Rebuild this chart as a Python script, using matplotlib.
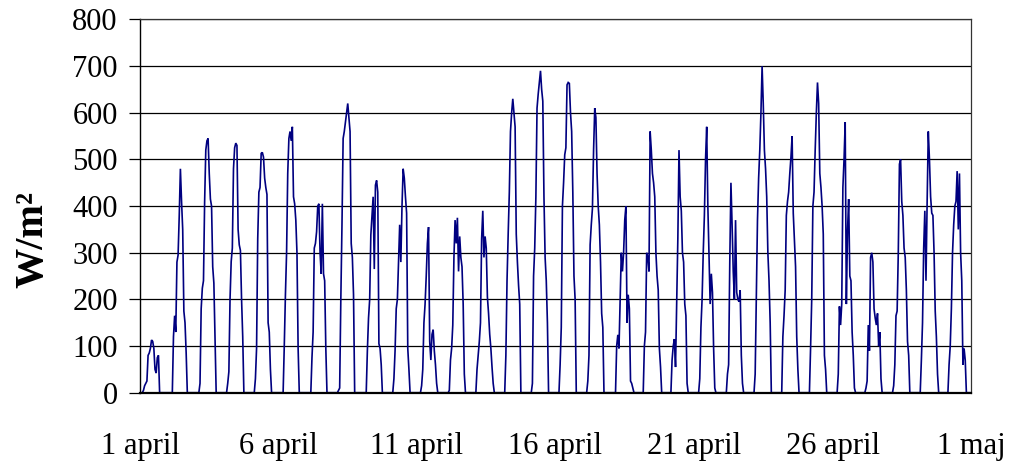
import matplotlib
matplotlib.use("Agg")
import matplotlib.pyplot as plt
import numpy as np

# Hourly global irradiance (W/m2), April. Each day lists hours 3..20 (other hours = 0)
hours = list(range(3, 21))
apr01 = [5, 15, 20, 25, 80, 85, 95, 113, 110, 95, 50, 42, 75, 80, 0, 0, 0, 0]
apr02 = [0, 0, 120, 165, 130, 280, 295, 380, 480, 410, 350, 175, 150, 85, 0, 0, 0, 0]
apr03 = [0, 20, 180, 224, 240, 410, 520, 540, 545, 470, 415, 400, 270, 235, 120, 0, 0, 0]
apr04 = [0, 20, 45, 200, 281, 310, 480, 525, 535, 530, 350, 317, 305, 200, 120, 0, 0, 0]
apr05 = [0, 30, 95, 330, 430, 440, 513, 515, 505, 460, 440, 425, 150, 130, 50, 0, 0, 0]
apr06 = [0, 0, 100, 210, 300, 470, 545, 560, 540, 570, 420, 405, 370, 300, 95, 0, 0, 0]
apr07 = [0, 0, 75, 130, 310, 320, 345, 400, 405, 300, 255, 405, 255, 240, 95, 0, 0, 0]
apr08 = [0, 5, 10, 200, 360, 545, 560, 580, 600, 620, 590, 560, 320, 290, 210, 0, 0, 0]
apr09 = [0, 0, 90, 160, 200, 338, 380, 420, 265, 445, 455, 430, 105, 95, 60, 0, 0, 0]
apr10 = [0, 30, 90, 180, 200, 280, 360, 280, 400, 480, 460, 420, 385, 95, 50, 0, 0, 0]
apr11 = [0, 15, 50, 150, 190, 250, 320, 355, 110, 70, 125, 135, 90, 60, 20, 0, 0, 0]
apr12 = [0, 5, 70, 95, 145, 290, 370, 320, 375, 260, 335, 290, 270, 190, 40, 0, 0, 0]
apr13 = [0, 50, 80, 110, 150, 330, 390, 290, 335, 310, 205, 170, 125, 95, 55, 20, 0, 0]
apr14 = [0, 0, 80, 240, 340, 430, 560, 600, 630, 600, 570, 340, 280, 230, 190, 0, 0, 0]
apr15 = [0, 20, 250, 310, 420, 610, 640, 665, 690, 650, 625, 420, 290, 240, 150, 0, 0, 0]
apr16 = [0, 60, 140, 400, 450, 510, 525, 660, 665, 663, 600, 560, 430, 250, 200, 0, 0, 0]
apr17 = [0, 25, 80, 317, 360, 395, 520, 610, 590, 470, 400, 360, 280, 170, 140, 0, 0, 0]
apr18 = [0, 0, 100, 124, 95, 200, 300, 260, 300, 370, 400, 150, 210, 180, 25, 20, 10, 0]
apr19 = [0, 0, 100, 130, 300, 290, 260, 560, 520, 470, 450, 420, 300, 250, 220, 95, 55, 0]
apr20 = [0, 0, 70, 100, 115, 55, 190, 330, 520, 420, 390, 300, 280, 190, 165, 20, 0, 0]
apr21 = [0, 0, 30, 140, 200, 300, 380, 500, 570, 400, 290, 190, 255, 215, 95, 10, 0, 0]
apr22 = [0, 0, 40, 60, 280, 450, 360, 260, 200, 370, 215, 200, 195, 220, 80, 20, 0, 0]
apr23 = [0, 0, 40, 200, 370, 460, 520, 600, 700, 620, 520, 480, 420, 300, 240, 150, 0, 0]
apr24 = [0, 0, 120, 165, 220, 380, 410, 430, 470, 505, 550, 385, 330, 270, 120, 50, 0, 0]
apr25 = [0, 0, 95, 200, 400, 430, 520, 600, 665, 620, 470, 440, 400, 340, 80, 50, 0, 0]
apr26 = [0, 0, 40, 185, 145, 190, 440, 500, 580, 190, 345, 415, 250, 240, 130, 80, 10, 0]
apr27 = [0, 0, 10, 25, 145, 90, 290, 300, 280, 180, 160, 145, 170, 100, 130, 30, 0, 0]
apr28 = [0, 0, 15, 60, 165, 175, 300, 490, 500, 410, 380, 310, 290, 220, 110, 80, 0, 0]
apr29 = [0, 0, 70, 150, 310, 390, 240, 410, 560, 500, 420, 385, 380, 300, 175, 120, 40, 0]
apr30 = [0, 0, 60, 100, 180, 300, 360, 400, 410, 475, 350, 470, 300, 240, 60, 95, 70, 0]

days = [apr01, apr02, apr03, apr04, apr05, apr06, apr07, apr08, apr09, apr10,
        apr11, apr12, apr13, apr14, apr15, apr16, apr17, apr18, apr19, apr20,
        apr21, apr22, apr23, apr24, apr25, apr26, apr27, apr28, apr29, apr30]

tick_labels = ["1 april", "6 april", "11 april", "16 april", "21 april", "26 april", "1 maj"]
y_ticks = [0, 100, 200, 300, 400, 500, 600, 700, 800]

# assemble hourly series
series = np.zeros(len(days) * 24)
for d, prof in enumerate(days):
    for h, v in zip(hours, prof):
        series[d * 24 + h] = v
t = np.arange(len(series))

plt.rcParams['font.family'] = ['Liberation Serif', 'DejaVu Serif']

fig = plt.figure(figsize=(10.09, 4.65), dpi=100)
ax = fig.add_axes([140 / 1009, 1 - 392.7 / 465, 831 / 1009, (392.7 - 19.5) / 465])

ax.plot(t, series, color='#000080', lw=1.2, solid_joinstyle='miter')

ax.set_xlim(0, len(days) * 24)
ax.set_ylim(0, 800)
ax.set_yticks(y_ticks)
ax.set_xticks(np.arange(0, len(days) * 24 + 1, 120))
ax.set_xticklabels(tick_labels)
ax.grid(axis='y', color='black', lw=0.9)
ax.set_axisbelow(True)

for s in ['top', 'right']:
    ax.spines[s].set_color('#333333')
    ax.spines[s].set_linewidth(0.9)
ax.spines['left'].set_linewidth(1.0)
ax.spines['bottom'].set_linewidth(1.6)

ax.tick_params(axis='y', labelsize=22, length=8, width=0.9, direction='out', pad=8)
ax.tick_params(axis='x', labelsize=22, length=0, pad=28)

ax.set_ylabel('W/m²', fontsize=29, fontweight='bold')
ax.yaxis.set_label_coords(-0.107, 0.41)

fig.savefig('out.png', dpi=100)
